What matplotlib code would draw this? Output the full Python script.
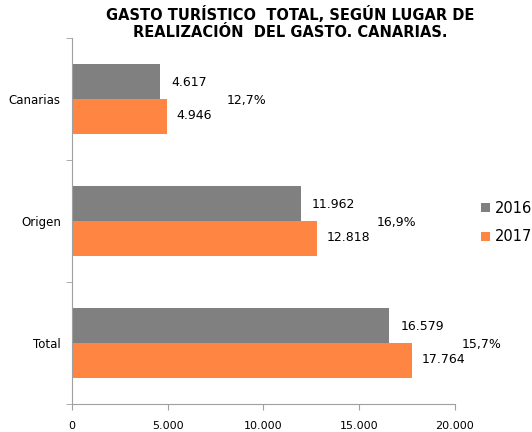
import numpy as np
import matplotlib
matplotlib.use("Agg")
import matplotlib.pyplot as plt
from matplotlib.ticker import FixedLocator, FuncFormatter

# data
categorias = ["Total", "Origen", "Canarias"]
gasto_2016 = [16579, 11962, 4617]
gasto_2017 = [17764, 12818, 4946]
variacion = ["15,7%", "16,9%", "12,7%"]
years = ["2016", "2017"]

color_2016 = "#808080"
color_2017 = "#FF8543"

# horizontal offset (points) of the % label from the 2017 bar end
pct_offset = [36, 43, 43]


def fmt_miles(v):
    return f"{int(v):,}".replace(",", ".")


fig = plt.figure(figsize=(5.32, 4.32), dpi=100)
ax = fig.add_axes([0.1353, 0.0648, 0.7197, 0.847])

y = np.arange(len(categorias))
h = 0.287

ax.barh(y + h / 2, gasto_2016, height=h, color=color_2016, label=years[0])
ax.barh(y - h / 2, gasto_2017, height=h, color=color_2017, label=years[1])

# value labels
for i in range(len(categorias)):
    ax.annotate(fmt_miles(gasto_2016[i]), (gasto_2016[i], y[i] + h / 2),
                xytext=(8, -1), textcoords="offset points",
                ha="left", va="center", fontsize=9)
    ax.annotate(fmt_miles(gasto_2017[i]), (gasto_2017[i], y[i] - h / 2),
                xytext=(7, 1), textcoords="offset points",
                ha="left", va="center", fontsize=9)
    ax.annotate(variacion[i], (gasto_2017[i], y[i]),
                xytext=(pct_offset[i], -1), textcoords="offset points",
                ha="left", va="center", fontsize=9)

ax.set_xlim(0, 20000)
ax.set_ylim(-0.5, 2.5)
ax.set_xticks([0, 5000, 10000, 15000, 20000])
ax.xaxis.set_major_formatter(FuncFormatter(lambda v, p: fmt_miles(v)))
ax.set_yticks(y)
ax.set_yticklabels(categorias)
ax.yaxis.set_minor_locator(FixedLocator([-0.5, 0.5, 1.5, 2.5]))
ax.tick_params(axis="y", which="major", length=0, pad=8, labelsize=8.5)
ax.tick_params(axis="y", which="minor", length=4, color="#A0A0A0")
ax.tick_params(axis="x", length=4, color="#A0A0A0", labelsize=8, pad=8)

for s in ["top", "right"]:
    ax.spines[s].set_visible(False)
for s in ["left", "bottom"]:
    ax.spines[s].set_color("#A0A0A0")

fig.text(0.545, 0.985, "GASTO TURÍSTICO  TOTAL, SEGÚN LUGAR DE\nREALIZACIÓN  DEL GASTO. CANARIAS.",
         ha="center", va="top", fontsize=10.5, fontweight="bold", linespacing=1.15)

fig.legend(loc="center left", bbox_to_anchor=(0.904, 0.485), frameon=False,
           borderpad=0, borderaxespad=0,
           fontsize=10.5, handlelength=0.6, handleheight=0.6, handletextpad=0.35,
           labelspacing=0.95)

fig.savefig("out.png", dpi=100)
